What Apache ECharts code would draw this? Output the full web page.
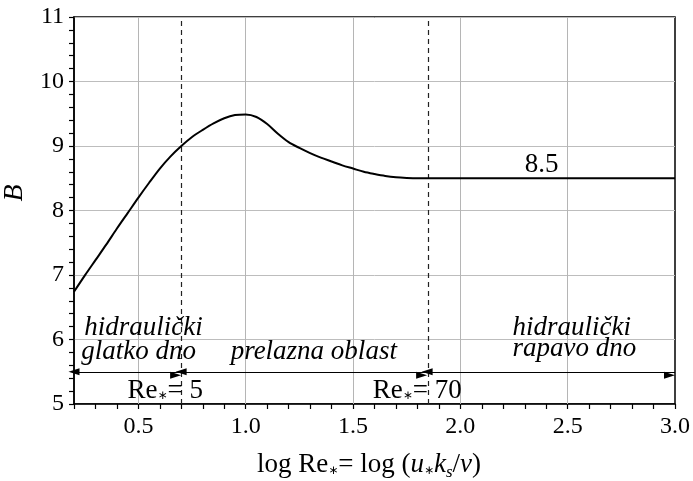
<!DOCTYPE html>
<html><head><meta charset="utf-8">
<script src="https://cdn.jsdelivr.net/npm/echarts@6/dist/echarts.min.js"></script>
<style>html,body{margin:0;padding:0;background:#fff}#c{width:693px;height:481px}</style>
</head><body><div id="c"></div>
<script>
// ---- data ----
const curveX = [0.20, 0.25, 0.30, 0.35, 0.40, 0.45, 0.50, 0.55, 0.60, 0.65, 0.70, 0.75, 0.80, 0.85, 0.90, 0.95, 1.00, 1.05, 1.10, 1.15, 1.20, 1.25, 1.30, 1.35, 1.40, 1.45, 1.50, 1.55, 1.60, 1.65, 1.70, 1.75, 1.80, 1.85, 2.0, 2.5, 3.0];
const curveY = [6.74, 6.99, 7.23, 7.47, 7.72, 7.96, 8.20, 8.43, 8.65, 8.84, 9.00, 9.14, 9.25, 9.35, 9.43, 9.48, 9.49, 9.45, 9.34, 9.19, 9.06, 8.97, 8.89, 8.82, 8.76, 8.70, 8.65, 8.60, 8.565, 8.535, 8.515, 8.505, 8.50, 8.50, 8.50, 8.50, 8.50];
const boundaryX = [Math.log10(5), Math.log10(70)];   // Re* = 5, Re* = 70
const arrowY = 5.5;
const arrowSegments = [[0.2, Math.log10(5)], [Math.log10(5), Math.log10(70)], [Math.log10(70), 3.0]];
const xTickLabels = [0.5, 1.0, 1.5, 2.0, 2.5, 3.0];
const yTickLabels = [5, 6, 7, 8, 9, 10, 11];
const xRange = [0.2, 3.0];
const yRange = [5, 11];
const plateauLabel = '8.5';

// ---- fonts / styles ----
const FN = '27px "Liberation Serif"';
const FI = 'italic 27px "Liberation Serif"';
const FSTAR = '12px "DejaVu Sans"';
const FSUB = 'italic 17px "Liberation Serif"';

// annotation anchors: [x centre, y baseline] in data units
const annotations = [
  {at: [0.524, 6.07], pieces: [['hidraulički', FI]]},
  {at: [0.501, 5.70], pieces: [['glatko dno', FI]]},
  {at: [1.317, 5.70], pieces: [['prelazna oblast', FI]]},
  {at: [2.519, 6.07], pieces: [['hidraulički', FI]]},
  {at: [2.531, 5.75], pieces: [['rapavo dno', FI]]},
  {at: [0.625, 5.10], pieces: [['Re', FN], ['∗', FSTAR, 1.5], ['= 5', FN]]},
  {at: [1.799, 5.10], pieces: [['Re', FN], ['∗', FSTAR, 1.5], ['= 70', FN]]},
  {at: [2.379, 8.59], pieces: [[plateauLabel, FN]]}
];
const xTitlePieces = [['log Re', FN], ['∗', FSTAR, 1.5], ['= log (', FN], ['u', FI], ['∗', FSTAR, 1.5],
  ['k', FI], ['s', FSUB, 5], ['/', FN], ['ν', FI], [')', FN]];

const chart = echarts.init(document.getElementById('c'), null, {renderer: 'canvas'});

const option = {
  animation: false,
  grid: {left: 74, right: 18, top: 17, bottom: 77, show: true, borderColor: '#000', borderWidth: 1.5,
    containLabel: false, outerBoundsMode: 'none'},
  xAxis: {
    type: 'value', min: xRange[0], max: xRange[1], interval: 0.1,
    axisLine: {show: true, lineStyle: {color: '#000', width: 1.5}},
    axisTick: {show: true, length: 5, lineStyle: {color: '#000', width: 1.2}},
    axisLabel: {
      color: '#000', fontFamily: 'Liberation Serif', fontSize: 24, margin: 11,
      customValues: xTickLabels,
      formatter: v => v.toFixed(1)
    },
    splitLine: {show: false}
  },
  yAxis: {
    type: 'value', min: yRange[0], max: yRange[1], interval: 1,
    axisLine: {show: true, lineStyle: {color: '#000', width: 1.5}},
    axisTick: {show: true, length: 5, lineStyle: {color: '#000', width: 1.2}},
    minorTick: {show: true, splitNumber: 5, length: 5, lineStyle: {color: '#000', width: 1.2}},
    axisLabel: {color: '#000', fontFamily: 'Liberation Serif', fontSize: 24, margin: 10,
      customValues: yTickLabels},
    splitLine: {show: true, lineStyle: {color: '#bdbdbd', width: 1}}
  },
  series: [
    {
      type: 'line', data: [], silent: true,
      markLine: {
        silent: true, symbol: ['none', 'none'], label: {show: false},
        lineStyle: {color: '#b5b5b5', width: 1, type: 'solid'},
        data: xTickLabels.filter(v => v < xRange[1]).map(v => ({xAxis: v}))
      }
    },
    {
      type: 'line', data: [], silent: true, z: 3,
      markLine: {
        silent: true, symbol: ['none', 'none'], label: {show: false},
        lineStyle: {color: '#222', width: 1.2, type: [5, 4]},
        data: boundaryX.map(v => ({xAxis: v}))
      }
    },
    {
      type: 'line', data: [], silent: true, z: 4,
      markLine: {
        silent: true, symbol: ['triangle', 'triangle'], symbolSize: [7, 11],
        symbolOffset: [0, '50%'],
        label: {show: false},
        lineStyle: {color: '#000', width: 1, type: 'solid'},
        data: arrowSegments.map(s => [{coord: [s[0], arrowY]}, {coord: [s[1], arrowY]}])
      }
    },
    {
      type: 'line', z: 5,
      data: curveX.map((x, i) => [x, curveY[i]]),
      showSymbol: false, smooth: 0.3,
      lineStyle: {color: '#000', width: 2}
    }
  ]
};
chart.setOption(option);

// ---- text runs with sub/superscripts, placed on a baseline ----
const mctx = document.createElement('canvas').getContext('2d');
function middleToBaseline(font) {
  mctx.font = font;
  mctx.textBaseline = 'alphabetic';
  const a1 = mctx.measureText('H').actualBoundingBoxAscent;
  mctx.textBaseline = 'middle';
  const a2 = mctx.measureText('H').actualBoundingBoxAscent;
  mctx.textBaseline = 'alphabetic';
  return a1 - a2;
}
function textRun(pieces, cx, baseY) {
  const widths = pieces.map(p => { mctx.font = p[1]; return mctx.measureText(p[0]).width; });
  const total = widths.reduce((a, b) => a + b, 0);
  let x = cx - total / 2;
  const out = [];
  pieces.forEach((p, i) => {
    const by = baseY + (p[2] || 0);
    out.push({
      type: 'text', x: x, y: by - middleToBaseline(p[1]), z: 100, silent: true,
      style: {text: p[0], font: p[1], fill: '#000', align: 'left', verticalAlign: 'middle'}
    });
    x += widths[i];
  });
  return out;
}
const g = [];
annotations.forEach(a => {
  const p = chart.convertToPixel({gridIndex: 0}, a.at);
  g.push(...textRun(a.pieces, p[0], p[1]));
});
g.push(...textRun(xTitlePieces, 369, 472));
g.push({
  type: 'text', x: 15, y: 193, rotation: Math.PI / 2, z: 100,
  style: {text: 'B', font: 'italic 28px "Liberation Serif"', fill: '#000', align: 'center', verticalAlign: 'middle'}
});
chart.setOption({graphic: g});
</script></body></html>
